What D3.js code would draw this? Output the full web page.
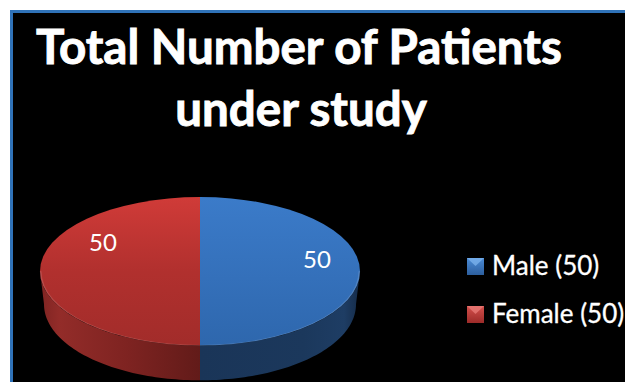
<!DOCTYPE html>
<html>
<head>
<meta charset="utf-8">
<script src="https://cdn.jsdelivr.net/npm/d3@7"></script>
<style>
  html, body { margin: 0; padding: 0; background: #fff; }
  svg { display: block; }
  text { font-family: Lato, "Open Sans", sans-serif; fill: #fff; }
</style>
</head>
<body>
<svg id="chart" width="625" height="382"></svg>
<script>
const categories = ["Male", "Female"];
const patientCounts = [50, 50];
const titleLines = ["Total Number of Patients", "under study"];
const legendLabels = ["Male (50)", "Female (50)"];

const svg = d3.select("#chart");
const defs = svg.append("defs");

function linearGradient(id, stops, horizontal) {
  const g = defs.append("linearGradient").attr("id", id)
    .attr("x1", 0).attr("y1", 0)
    .attr("x2", horizontal ? 1 : 0).attr("y2", horizontal ? 0 : 1);
  stops.forEach(([o, c]) => g.append("stop").attr("offset", o).attr("stop-color", c));
}

linearGradient("topMale", [[0, "#3b7bc9"], [0.55, "#3470ba"], [1, "#2e67ad"]]);
linearGradient("topFemale", [[0, "#d03b38"], [0.5, "#b1302e"], [1, "#a22c2a"]]);
linearGradient("wallMale", [[0, "#1a3558"], [0.65, "#1b385c"], [0.9, "#1e3d64"], [1, "#152b48"]], true);
linearGradient("wallFemale", [[0, "#7e2422"], [0.12, "#932c29"], [0.55, "#7e2321"], [1, "#621b19"]], true);
linearGradient("keyMale", [[0, "#4b8bd6"], [1, "#2d5f9e"]]);
linearGradient("keyFemale", [[0, "#d4504c"], [1, "#9c2b29"]]);

// Slide panel with a blue outline
svg.append("rect")
  .attr("x", 11.5).attr("y", 11.5)
  .attr("width", 640).attr("height", 400)
  .attr("fill", "#000")
  .attr("stroke", "#2f72b8")
  .attr("stroke-width", 3);

svg.selectAll("text.title")
  .data(titleLines)
  .join("text")
  .attr("class", "title")
  .attr("x", (d, i) => i === 0 ? 299 : 301)
  .attr("y", (d, i) => 64 + i * 62)
  .attr("text-anchor", "middle")
  .attr("font-size", 47.5)
  .attr("font-weight", 700)
  .attr("stroke", "#fff")
  .attr("stroke-width", 0.9)
  .text(d => d);

// Tilted pie: a flat d3 pie squashed vertically, with a wall hanging below its rim
const cx = 200, cy = 271.3, rx = 160, ry = 74.3;
const base = { rx: 156, ry: 76, dy: 33 };
const rScale = d3.scaleLinear().domain([0, 1]).range([0, rx]);
const pie = d3.pie().sort(null).value(d => d);
const slices = pie(patientCounts);
const arc = d3.arc().innerRadius(0).outerRadius(rScale(1));
const rimArc = d3.arc().innerRadius(rScale(1) - 1.5).outerRadius(rScale(1));

const topPoint = a => [cx + rx * Math.sin(a), cy - ry * Math.cos(a)];
const basePoint = a => [cx + base.rx * Math.sin(a), cy + base.dy - base.ry * Math.cos(a)];

function wallPath(s) {
  // Only the front half of the rim shows a wall
  const from = Math.max(s.startAngle, Math.PI / 2);
  const to = Math.min(s.endAngle, 3 * Math.PI / 2);
  const angles = d3.range(0, 61).map(i => from + (to - from) * i / 60);
  const line = d3.line();
  return line(angles.map(topPoint).concat(angles.slice().reverse().map(basePoint))) + "Z";
}

const pieGroup = svg.append("g");
pieGroup.selectAll("path.wall")
  .data(slices)
  .join("path")
  .attr("class", "wall")
  .attr("d", wallPath)
  .attr("fill", (d, i) => `url(#${i === 0 ? "wallMale" : "wallFemale"})`);

pieGroup.selectAll("path.top")
  .data(slices)
  .join("path")
  .attr("class", "top")
  .attr("transform", `translate(${cx},${cy}) scale(1,${ry / rx})`)
  .attr("d", arc)
  .attr("fill", (d, i) => `url(#${i === 0 ? "topMale" : "topFemale"})`);

// Soft bevel highlight along the front of the rim
pieGroup.selectAll("path.rim")
  .data(slices)
  .join("path")
  .attr("class", "rim")
  .attr("transform", `translate(${cx},${cy}) scale(1,${ry / rx})`)
  .attr("d", d => rimArc({
    startAngle: Math.max(d.startAngle, Math.PI / 2),
    endAngle: Math.min(d.endAngle, 3 * Math.PI / 2)
  }))
  .attr("fill", "#fff")
  .attr("fill-opacity", 0.14);

// Value labels sit at hand-picked spots on each slice
const labelSpots = [{ x: 317, y: 268 }, { x: 103, y: 251 }];
svg.selectAll("text.value")
  .data(slices)
  .join("text")
  .attr("class", "value")
  .attr("text-anchor", "middle")
  .attr("font-size", 24)
  .attr("x", (d, i) => labelSpots[i].x)
  .attr("y", (d, i) => labelSpots[i].y)
  .text(d => d.value);

// Legend with bevelled keys
const legendY = d3.scalePoint().domain(categories).range([275, 323]);
const legend = svg.selectAll("g.key")
  .data(categories)
  .join("g")
  .attr("class", "key")
  .attr("transform", d => `translate(467,${legendY(d)})`);
legend.append("rect")
  .attr("y", -17).attr("width", 17).attr("height", 17)
  .attr("fill", (d, i) => `url(#${i === 0 ? "keyMale" : "keyFemale"})`);
legend.append("path")
  .attr("d", d3.line()([[0, -17], [17, -17], [8.5, -9]]) + "Z")
  .attr("fill", (d, i) => i === 0 ? "#7db4ee" : "#ea7d79")
  .attr("fill-opacity", 0.75);
legend.append("text")
  .attr("x", 25).attr("y", 0)
  .attr("font-size", 26)
  .attr("stroke", "#fff")
  .attr("stroke-width", 0.3)
  .text((d, i) => legendLabels[i]);
</script>
</body>
</html>
